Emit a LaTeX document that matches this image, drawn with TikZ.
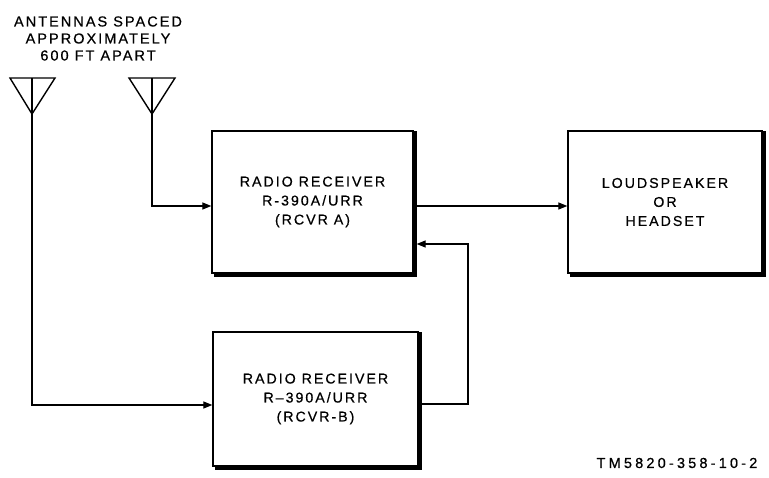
\documentclass[tikz,border=0pt]{standalone}
\usepackage{fontspec}
\setmainfont{Liberation Sans}
\newfontfamily\lettering[LetterSpace=14,FakeBold=0.6]{Liberation Sans}
\newfontfamily\widelettering[LetterSpace=22,FakeBold=0.6]{Liberation Sans}
\usetikzlibrary{arrows.meta}
\tikzset{
  blk/.style={draw, line width=1.3pt, minimum width=#1, inner sep=0pt, align=center, font=\lettering\fontsize{14.2}{19}\selectfont},
  conn/.style={line width=1.2pt, -{Triangle[length=9pt,width=7pt]}},
  wire/.style={line width=1.4pt},
  lbl/.style={align=center, inner sep=0pt, font=\lettering\fontsize{14.5}{17}\selectfont},
}
\newcommand{\shadowbox}[1]{%
  \draw[line width=3pt] ([xshift=1.5pt,yshift=-1pt]#1.north east) -- ([xshift=1.5pt,yshift=-1.5pt]#1.south east) -- ([xshift=3pt,yshift=-1.5pt]#1.south west);}
\begin{document}
\begin{tikzpicture}[x=1pt,y=-1pt]
\useasboundingbox (0,0) rectangle (769,477);
% title
\node[lbl] (title) at (98,38.5) {ANTENNAS SPACED\\APPROXIMATELY\\600 FT APART};
% antennas
\draw[wire, line join=miter] (10,78) -- (55,78) -- (32,114) -- cycle;
\draw[wire] (32,78) -- (32,114);
\coordinate (ant1) at (32,114);
\draw[wire, line join=miter] (129,78) -- (175,78) -- (152,114) -- cycle;
\draw[wire] (152,78) -- (152,114);
\coordinate (ant2) at (152,114);
% boxes
\node[blk=201pt, minimum height=142pt] (A) at (312.5,202) {RADIO RECEIVER\\R-390A/URR\\(RCVR A)};
\node[blk=205pt, minimum height=134pt] (B) at (315.5,399) {RADIO RECEIVER\\R–390A/URR\\(RCVR-B)};
\node[blk=194pt, minimum height=142pt] (L) at (665,202) {LOUDSPEAKER\\OR\\HEADSET};
\shadowbox{A}
\shadowbox{B}
\shadowbox{L}
% connectors
\coordinate (Ain) at (A.west |- 0,206);
\coordinate (Aout) at ([xshift=3pt]A.east |- 0,206);
\coordinate (Lin) at (L.west |- 0,206);
\coordinate (Afb) at ([xshift=3pt]A.east |- 0,244);
\coordinate (Bin) at (B.west |- 0,405);
\coordinate (Bout) at ([xshift=3pt]B.east |- 0,404);
\coordinate (turn) at (468,404);
\draw[conn] (ant2) |- (Ain);
\draw[conn] (ant1) |- (Bin);
\draw[conn] (Aout) -- (Lin);
\draw[conn] (Bout) -- (turn) |- (Afb);
% figure id
\node[align=center, inner sep=0pt, font=\widelettering\fontsize{14.5}{17}\selectfont] (tm) at (677,463) {TM5820-358-10-2};
\end{tikzpicture}
\end{document}
